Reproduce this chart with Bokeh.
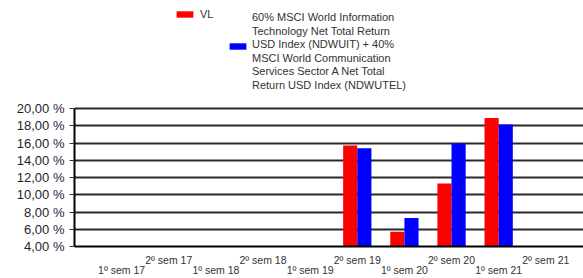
from bokeh.plotting import figure
from bokeh.models import (ColumnDataSource, Range1d, FixedTicker, LinearAxis,
                          Legend, LegendItem)
from bokeh.transform import dodge
from bokeh.embed import file_html
from bokeh.resources import INLINE
import numpy as np

categories = ["1º sem 17", "2º sem 17", "1º sem 18", "2º sem 18", "1º sem 19",
              "2º sem 19", "1º sem 20", "2º sem 20", "1º sem 21", "2º sem 21"]
vl = [np.nan, np.nan, np.nan, np.nan, np.nan, 15.7, 5.7, 11.3, 18.9, np.nan]
benchmark = [np.nan, np.nan, np.nan, np.nan, np.nan, 15.4, 7.3, 15.95, 18.15, np.nan]
y_ticks = [4, 6, 8, 10, 12, 14, 16, 18, 20]
y_tick_labels = ["4,00 %", "6,00 %", "8,00 %", "10,00 %", "12,00 %",
                 "14,00 %", "16,00 %", "18,00 %", "20,00 %"]
series_names = ["VL",
                "60% MSCI World Information\nTechnology Net Total Return\n"
                "USD Index (NDWUIT) + 40%\nMSCI World Communication\n"
                "Services Sector A Net Total\nReturn USD Index (NDWUTEL)"]

idx = list(range(len(categories)))
src = ColumnDataSource(dict(x=idx, vl=vl, bm=benchmark))

FONT = "Liberation Sans"

# layout numbers (pixels)
W, H = 583, 278
FRAME_LEFT = 74
FRAME_BOTTOM = 246          # canvas y of the 4 % line
TOP_20 = 108                # canvas y of the 20 % line
px_per_unit = (FRAME_BOTTOM - TOP_20) / (y_ticks[-1] - y_ticks[0])
y_top = y_ticks[-1] + TOP_20 / px_per_unit   # frame reaches the top so the legend shows

p = figure(width=W, height=H, output_backend="svg", toolbar_location=None,
           x_range=Range1d(-1, 9.8), y_range=Range1d(y_ticks[0], y_top),
           x_axis_location=None, y_axis_location=None,
           min_border_left=FRAME_LEFT, min_border_right=0, min_border_top=0,
           min_border_bottom=0)
p.outline_line_color = None

base = y_ticks[0]
r1 = p.vbar(x=dodge("x", -0.15), top="vl", bottom=base, width=0.3,
            source=src, fill_color="#ff0000", line_color=None)
r2 = p.vbar(x=dodge("x", 0.15), top="bm", bottom=base, width=0.3,
            source=src, fill_color="#0000ff", line_color=None)

# y axis
yax = LinearAxis(ticker=FixedTicker(ticks=y_ticks), bounds=(y_ticks[0], y_ticks[-1]),
                 major_label_overrides={t: l for t, l in zip(y_ticks, y_tick_labels)})
yax.major_label_text_font = FONT
yax.major_label_text_font_size = "13px"
yax.major_label_text_color = "#1e1e30"
yax.major_label_standoff = 5
yax.major_tick_out = 5
yax.major_tick_in = 0
yax.major_tick_line_color = "#333333"
yax.minor_tick_line_color = None
yax.axis_line_color = "black"
yax.axis_line_width = 2
p.add_layout(yax, "left")

p.ygrid.grid_line_color = "#2a2a2a"
p.ygrid.grid_line_width = 2
p.ygrid.ticker = FixedTicker(ticks=y_ticks)
p.xgrid.grid_line_color = None

# staggered x axes
second = [i for i in idx if i % 2 == 1]
first = [i for i in idx if i % 2 == 0]
xax1 = LinearAxis(ticker=FixedTicker(ticks=second),
                  major_label_overrides={i: categories[i] for i in second})
xax2 = LinearAxis(ticker=FixedTicker(ticks=first),
                  major_label_overrides={i: categories[i] for i in first})
for ax, so in ((xax1, 7), (xax2, -5)):
    ax.major_label_text_font = FONT
    ax.major_label_text_font_size = "10.5px"
    ax.major_label_text_color = "#333333"
    ax.major_label_standoff = so
    ax.major_tick_out = 0
    ax.major_tick_in = 0
    ax.major_tick_line_color = None
    ax.minor_tick_line_color = None
xax1.axis_line_color = "black"
xax1.axis_line_width = 2
xax2.axis_line_color = None
p.add_layout(xax1, "below")
p.add_layout(xax2, "below")

def make_legend(item, loc, glyph_width=21, standoff=5):
    lg = Legend(items=[item], orientation="horizontal", location=loc,
                glyph_width=glyph_width, glyph_height=8, label_standoff=standoff,
                padding=0, margin=0, label_height=13,
                border_line_color=None, background_fill_alpha=0)
    lg.label_text_font = FONT
    lg.label_text_font_size = "11px"
    lg.label_text_color = "#333333"
    return lg

# VL item
legA = make_legend(LegendItem(label=series_names[0], renderers=[r1]),
                   (174 - FRAME_LEFT, FRAME_BOTTOM - 20))
# benchmark swatch (placed beside the middle of the long label)
legB_glyph = make_legend(LegendItem(label=" ", renderers=[r2]),
                         (227 - FRAME_LEFT, FRAME_BOTTOM - 52))
p.add_layout(legA, "center")
p.add_layout(legB_glyph, "center")
# benchmark label, one line at a time (13.5 px line spacing)
for i, line in enumerate(series_names[1].split("\n")):
    centre = 16.5 + 13.5 * i
    lg = make_legend(LegendItem(label=line, renderers=[r2]),
                     (252 - FRAME_LEFT, FRAME_BOTTOM - (centre + 7)),
                     glyph_width=0, standoff=0)
    p.add_layout(lg, "center")

open("out.html", "w").write(file_html(p, INLINE))
